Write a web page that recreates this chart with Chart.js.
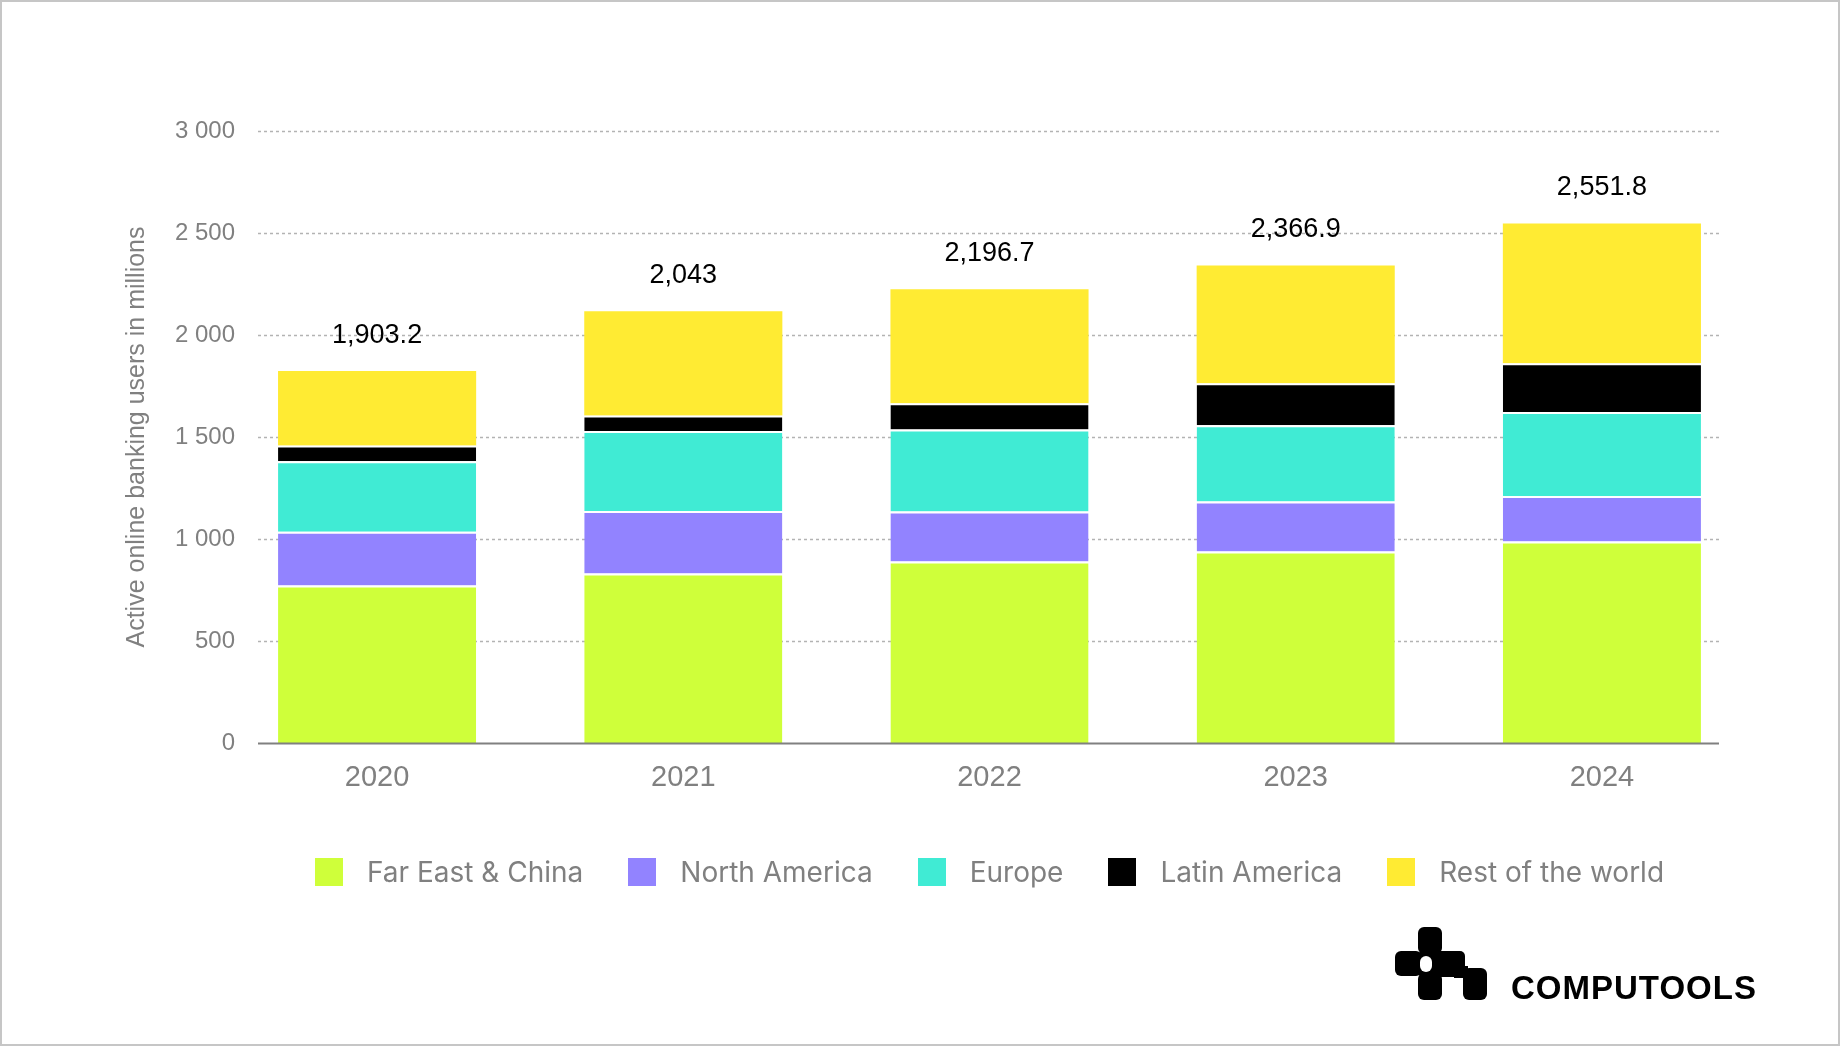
<!DOCTYPE html>
<html>
<head>
<meta charset="utf-8">
<script src="https://cdn.jsdelivr.net/npm/chart.js@4.4.1/dist/chart.umd.min.js"></script>
<style>
    html, body { margin: 0; padding: 0; background: #fff; }
    #page { position: relative; width: 1840px; height: 1046px; overflow: hidden; }
    #chart { position: absolute; left: 0; top: 0; }
    #frame { position: absolute; inset: 0; border: 2px solid #c6c6c6; pointer-events: none; }
    #legend {
        position: absolute; left: 224px; width: 1531px; top: 858px; height: 28px;
        display: flex; justify-content: center; align-items: center; gap: 45px;
        font-family: Inter, 'Liberation Sans', sans-serif; font-size: 28px; color: #808080;
    }
    .legend-item { display: flex; align-items: center; white-space: nowrap; }
    .legend-box { width: 28px; height: 28px; margin-right: 24px; }
    #logo { position: absolute; left: 1390px; top: 920px; }
</style>
</head>
<body>
<div id="page">
    <canvas id="chart" width="1840" height="1046"></canvas>
    <div id="legend"></div>
    <svg id="logo" width="400" height="100" viewBox="0 0 400 100">
        <g fill="#000">
            <rect x="28" y="7" width="24" height="27" rx="6"/>
            <rect x="5" y="31" width="27" height="25" rx="6"/>
            <rect x="28" y="31" width="47" height="26" rx="5"/>
            <rect x="28" y="53" width="24" height="27" rx="6"/>
            <rect x="73" y="48" width="24" height="32" rx="6"/>
            <rect x="64" y="46" width="14" height="12"/>
        </g>
        <rect x="30" y="36" width="12" height="16" rx="6" fill="#fff"/>
        <text x="121" y="79" font-family="'Liberation Sans', Arial, sans-serif" font-weight="bold" font-size="33" letter-spacing="1" fill="#000">COMPUTOOLS</text>
    </svg>
    <div id="frame"></div>
</div>
<script>
const years = ['2020', '2021', '2022', '2023', '2024'];
const farEastChina = [772, 831, 890, 939, 988];
const northAmerica = [264, 306, 245, 245, 223];
const europe = [345, 392, 402, 373, 412];
const latinAmerica = [77, 77, 128, 206, 238];
const restOfWorld = [365, 510, 559, 578, 686];
const totalLabels = ['1,903.2', '2,043', '2,196.7', '2,366.9', '2,551.8'];
const yTickValues = [0, 500, 1000, 1500, 2000, 2500, 3000];

const seriesNames = ['Far East & China', 'North America', 'Europe', 'Latin America', 'Rest of the world'];
const seriesColors = ['#cfff3a', '#9283ff', '#40ebd4', '#000000', '#ffeb33'];

const FONT = "'Liberation Sans', Arial, sans-serif";
const GRAY = '#808080';

function formatTick(value) {
    if (value >= 1000) {
        return Math.floor(value / 1000) + ' ' + String(value % 1000).padStart(3, '0');
    }
    return String(value);
}

// dashed grid, axis line, y labels and stack totals
const gridPlugin = {
    id: 'customGrid',
    beforeDatasetsDraw(chart) {
        const { ctx, chartArea } = chart;
        const y = chart.scales.y;
        const x0 = chartArea.left + 34;
        const x1 = chartArea.right - 36;
        ctx.save();
        ctx.strokeStyle = '#b3b3b3';
        ctx.lineWidth = 1.5;
        ctx.setLineDash([3, 3]);
        yTickValues.forEach(v => {
            if (v === 0) return;
            const py = Math.round(y.getPixelForValue(v)) + 0.5;
            ctx.beginPath();
            ctx.moveTo(x0, py);
            ctx.lineTo(x1, py);
            ctx.stroke();
        });
        ctx.restore();
    },
    afterDatasetsDraw(chart) {
        const { ctx, chartArea } = chart;
        const y = chart.scales.y;
        const py0 = y.getPixelForValue(0);
        ctx.save();
        ctx.strokeStyle = GRAY;
        ctx.lineWidth = 2;
        ctx.beginPath();
        ctx.moveTo(chartArea.left + 34, py0 + 0.5);
        ctx.lineTo(chartArea.right - 36, py0 + 0.5);
        ctx.stroke();

        // y tick labels sit just inside the bar area's left edge
        ctx.fillStyle = GRAY;
        ctx.font = '24px ' + FONT;
        ctx.textAlign = 'right';
        ctx.textBaseline = 'middle';
        yTickValues.forEach(v => {
            ctx.fillText(formatTick(v), chartArea.left + 11, y.getPixelForValue(v));
        });

        // totals above each stack
        const meta = chart.getDatasetMeta(chart.data.datasets.length - 1);
        ctx.fillStyle = '#000';
        ctx.font = '27px ' + FONT;
        ctx.textAlign = 'center';
        meta.data.forEach((bar, i) => {
            ctx.fillText(totalLabels[i], bar.x, bar.y - 36);
        });
        ctx.restore();
    }
};

const seriesData = [farEastChina, northAmerica, europe, latinAmerica, restOfWorld];
const datasets = seriesNames.map((name, i) => ({
    label: name,
    data: seriesData[i],
    backgroundColor: seriesColors[i],
    borderColor: '#ffffff',
    borderWidth: i < seriesNames.length - 1 ? { top: 2, right: 0, bottom: 0, left: 0 } : 0,
    borderSkipped: 'start',
    barPercentage: 0.647,
    categoryPercentage: 1
}));

const ctx = document.getElementById('chart').getContext('2d');
const chart = new Chart(ctx, {
    type: 'bar',
    data: {
        labels: years,
        datasets: datasets
    },
    options: {
        responsive: false,
        animation: false,
        layout: {
            padding: { left: 0, top: 131, right: 85, bottom: 0 }
        },
        plugins: {
            legend: { display: false },
            tooltip: { enabled: false }
        },
        scales: {
            x: {
                stacked: true,
                grid: { display: false, drawTicks: false },
                border: { display: false },
                ticks: {
                    color: GRAY,
                    font: { family: FONT, size: 29 },
                    padding: 18
                },
                afterFit: (scale) => { scale.height = 303; }
            },
            y: {
                stacked: true,
                min: 0,
                max: 3000,
                grid: { display: false, drawTicks: false },
                border: { display: false },
                ticks: { display: false, stepSize: 500 },
                title: {
                    display: true,
                    text: 'Active online banking users in millions',
                    color: GRAY,
                    font: { family: FONT, size: 25 },
                    padding: { top: 122, bottom: 0 }
                },
                afterFit: (scale) => { scale.width = 224; }
            }
        }
    },
    plugins: [gridPlugin]
});

// html legend built from the datasets
const legendEl = document.getElementById('legend');
chart.data.datasets.forEach(ds => {
    const item = document.createElement('div');
    item.className = 'legend-item';
    const box = document.createElement('span');
    box.className = 'legend-box';
    box.style.background = ds.backgroundColor;
    const label = document.createElement('span');
    label.textContent = ds.label;
    item.appendChild(box);
    item.appendChild(label);
    legendEl.appendChild(item);
});
</script>
</body>
</html>
